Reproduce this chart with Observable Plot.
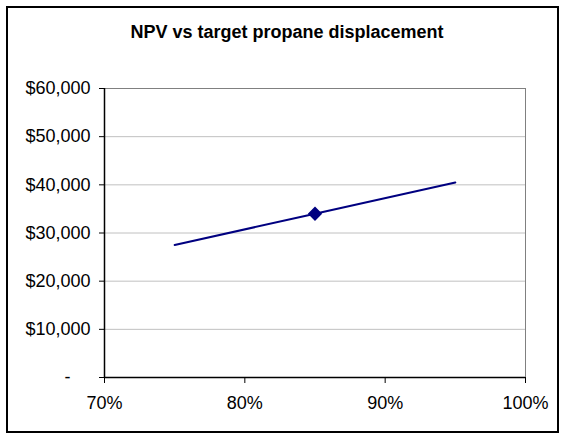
<!DOCTYPE html>
<html>
<head>
<meta charset="utf-8">
<script src="https://cdn.jsdelivr.net/npm/d3@7"></script>
<script src="https://cdn.jsdelivr.net/npm/@observablehq/plot@0.6"></script>
<style>
  html, body { margin: 0; padding: 0; background: #fff; }
  #wrap { position: relative; width: 563px; height: 435px; font-family: "Liberation Sans", Arial, sans-serif; }
  #border { position: absolute; left: 6px; top: 6px; width: 549px; height: 423px; border: 2px solid #000; box-sizing: content-box; pointer-events: none; }
  #title { position: absolute; left: 0; top: 23px; width: 574px; text-align: center; font-weight: bold; font-size: 18px; line-height: 18px; color: #000; }
  svg { display: block; }
</style>
</head>
<body>
<div id="wrap">
  <div id="title">NPV vs target propane displacement</div>
  <div id="chart"></div>
  <div id="border"></div>
</div>
<script>
// Data
const displacement = [0.75, 0.85, 0.95];
const npv = [27500, 34000, 40500];
const markerDisplacement = [0.85];
const markerNpv = [34000];
const xTicks = [0.7, 0.8, 0.9, 1.0];
const yTicks = [0, 10000, 20000, 30000, 40000, 50000, 60000];

const lineData = displacement.map((d, i) => ({x: d, y: npv[i]}));
const markerData = markerDisplacement.map((d, i) => ({x: d, y: markerNpv[i]}));

const fmtY = d => d === 0 ? "-\u2007\u2007" : "$" + d3.format(",")(d);
const fmtX = d => Math.round(d * 100) + "%";

const chart = Plot.plot({
  width: 563,
  height: 435,
  marginLeft: 104,
  marginRight: 38,
  marginTop: 88,
  marginBottom: 58,
  style: {fontFamily: "'Liberation Sans', Arial, sans-serif", fontSize: "18px", color: "#000", background: "transparent"},
  x: {domain: [0.7, 1.0]},
  y: {domain: [0, 60000]},
  marks: [
    Plot.gridY(yTicks, {stroke: "#c0c0c0", strokeOpacity: 1}),
    Plot.frame({stroke: "#808080"}),
    Plot.ruleX([0.7], {stroke: "#000", strokeWidth: 1.5}),
    Plot.ruleY([0], {stroke: "#000", strokeWidth: 1.5}),
    Plot.axisY(yTicks, {tickFormat: fmtY, tickSize: 5, tickPadding: 9, label: null, fontSize: 18, stroke: "#000"}),
    Plot.axisX(xTicks, {tickFormat: fmtX, tickSize: 6, tickPadding: 13, label: null, fontSize: 18, stroke: "#000"}),
    Plot.line(lineData, {x: "x", y: "y", stroke: "#000080", strokeWidth: 2}),
    Plot.dot(markerData, {x: "x", y: "y", symbol: "diamond2", r: 5.5, fill: "#000080", stroke: "#000080"})
  ]
});
document.getElementById("chart").appendChild(chart);
</script>
</body>
</html>
